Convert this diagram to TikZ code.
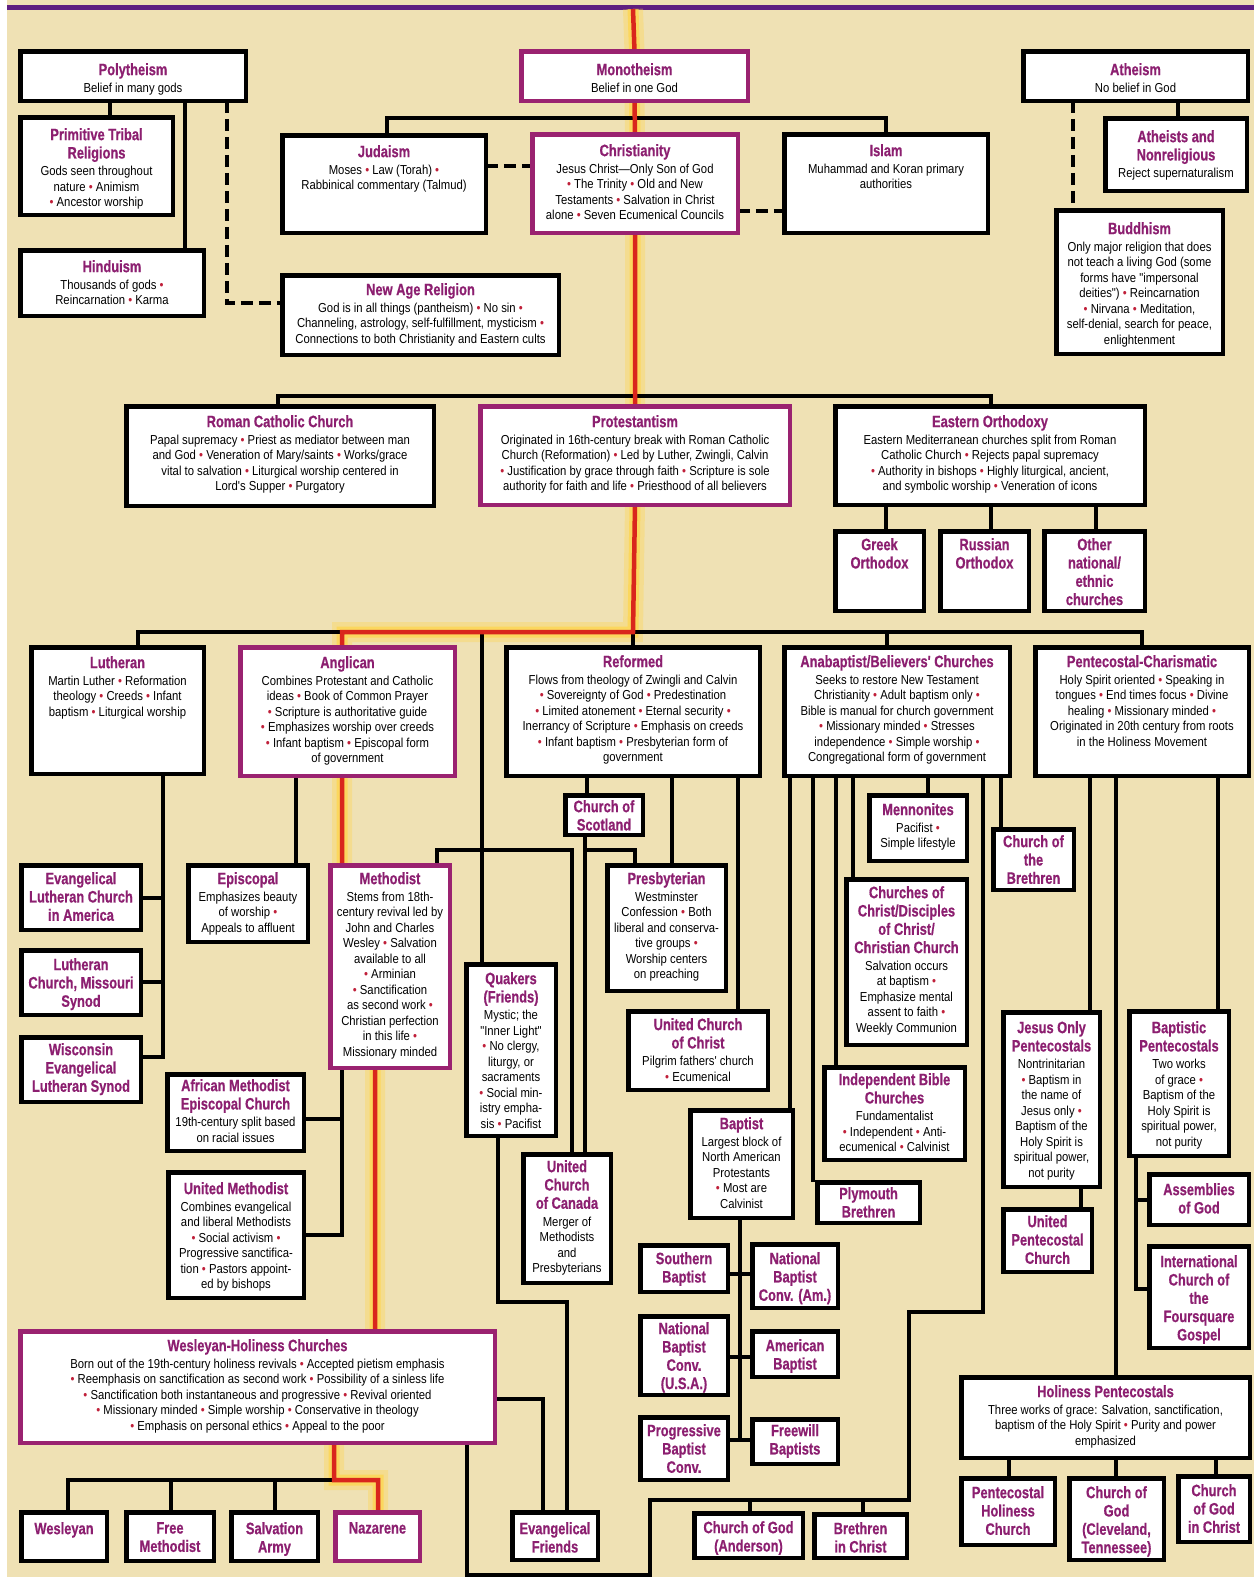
\documentclass[tikz,border=0pt]{standalone}
\usepackage{fontspec}
\setmainfont{Liberation Sans}
\newfontfamily\bodyfam{Liberation Sans}[FakeStretch=0.87]
\newfontfamily\ttlfam{Liberation Sans}[FakeStretch=0.78,FakeBold=0.6]
\usetikzlibrary{calc}
\definecolor{parch}{HTML}{EFE1B4}
\definecolor{ttlc}{HTML}{8C1F70}
\definecolor{bulred}{HTML}{C0203A}
\definecolor{purpb}{HTML}{9A2270}
\definecolor{purpbar}{HTML}{5E1F80}
\definecolor{redc}{HTML}{D9261C}
\definecolor{glowc}{HTML}{FFD54A}
\pgfdeclarelayer{back}
\pgfdeclarelayer{bg}
\pgfsetlayers{back,bg,main}
\newcommand\bul{\textcolor{bulred}{•}}
\tikzset{
 boxb/.style={draw=black, line width=4.5, fill=white, inner sep=0, outer sep=0},
 boxp/.style={draw=purpb, line width=4.5, fill=white, inner sep=0, outer sep=0},
 ttl/.style={font=\ttlfam\bfseries\fontsize{16.5}{18.3}\selectfont, text=ttlc, align=center, inner sep=0, text depth=0},
 bod/.style={font=\bodyfam\fontsize{13}{15.5}\selectfont, align=center, inner sep=0},
 con/.style={line width=4.8, black, line join=miter},
 dsh/.style={line width=4.8, black, dash pattern=on 12 off 6},
 redl/.style={line width=4.5, redc},
 glowa/.style={line width=20, glowc, opacity=0.35},
 glowb/.style={line width=11, glowc, opacity=0.7},
}
% #1 offset, #2 style, #3 name, #4 x1, #5 y1, #6 x2, #7 y2, #8 title, #9 body
\newcommand\bx[9][11]{%
 \node[#2, minimum width={#6-#4-4.5}, minimum height={#7-#5-4.5}] (#3) at ({(#4+#6)/2},{(#5+#7)/2}) {};
 \node[ttl, anchor=north] (#3-t) at ({(#4+#6)/2},{#5+#1}) {#8};
 \node[bod, anchor=north] (#3-b) at ([yshift=-7.5]#3-t.south) {#9};
}
\begin{document}
\begin{tikzpicture}[x=1pt,y=-1pt]
\useasboundingbox (0,0) rectangle (1254,1577);
\begin{pgfonlayer}{back}
\fill[white] (0,0) rectangle (1254,1577);
\fill[parch] (7,0) rectangle (1254,1577);
\fill[purpbar] (7,5) rectangle (1254,9.5);
\end{pgfonlayer}

% ---------- boxes ----------
\bx[14]{boxb}{poly}{18}{49}{248}{103}{Polytheism}{Belief in many gods}
\bx[14]{boxp}{mono}{519}{49}{750}{103}{Monotheism}{Belief in one God}
\bx[14]{boxb}{athe}{1021}{49}{1250}{103}{Atheism}{No belief in God}
\bx[13]{boxb}{prim}{18}{115}{175}{217}{Primitive Tribal\\Religions}{Gods seen throughout\\nature \bul{} Animism\\\bul{} Ancestor worship}
\bx[12]{boxb}{hindu}{18}{248}{206}{318}{Hinduism}{Thousands of gods \bul\\Reincarnation \bul{} Karma}
\bx[12]{boxb}{juda}{280}{133}{488}{235}{Judaism}{Moses \bul{} Law (Torah) \bul\\Rabbinical commentary (Talmud)}
\bx[12]{boxp}{chri}{530}{132}{740}{235}{Christianity}{Jesus Christ—Only Son of God\\\bul{} The Trinity \bul{} Old and New\\Testaments \bul{} Salvation in Christ\\alone \bul{} Seven Ecumenical Councils}
\bx[12]{boxb}{islam}{782}{132}{990}{235}{Islam}{Muhammad and Koran primary\\authorities}
\bx[14]{boxb}{athr}{1103}{116}{1249}{193}{Atheists and\\Nonreligious}{Reject supernaturalism}
\bx[14]{boxb}{budd}{1054}{208}{1225}{356}{Buddhism}{Only major religion that does\\not teach a living God (some\\forms have "impersonal\\deities") \bul{} Reincarnation\\\bul{} Nirvana \bul{} Meditation,\\self-denial, search for peace,\\enlightenment}
\bx[10]{boxb}{newage}{280}{273}{561}{357}{New Age Religion}{God is in all things (pantheism) \bul{} No sin \bul\\Channeling, astrology, self-fulfillment, mysticism \bul\\Connections to both Christianity and Eastern cults}
\bx[11]{boxb}{rcc}{124}{404}{436}{508}{Roman Catholic Church}{Papal supremacy \bul{} Priest as mediator between man\\and God \bul{} Veneration of Mary/saints \bul{} Works/grace\\vital to salvation \bul{} Liturgical worship centered in\\Lord's Supper \bul{} Purgatory}
\bx[11]{boxp}{prot}{478}{404}{792}{507}{Protestantism}{Originated in 16th-century break with Roman Catholic\\Church (Reformation) \bul{} Led by Luther, Zwingli, Calvin\\\bul{} Justification by grace through faith \bul{} Scripture is sole\\authority for faith and life \bul{} Priesthood of all believers}
\bx[11]{boxb}{eo}{833}{404}{1147}{507}{Eastern Orthodoxy}{Eastern Mediterranean churches split from Roman\\Catholic Church \bul{} Rejects papal supremacy\\\bul{} Authority in bishops \bul{} Highly liturgical, ancient,\\and symbolic worship \bul{} Veneration of icons}
\bx[9]{boxb}{greek}{833}{529}{926}{613}{Greek\\Orthodox}{}
\bx[9]{boxb}{russ}{938}{529}{1031}{613}{Russian\\Orthodox}{}
\bx[9]{boxb}{othr}{1042}{529}{1147}{613}{Other\\national/\\ethnic\\churches}{}
\bx[11]{boxb}{luth}{29}{645}{206}{776}{Lutheran}{Martin Luther \bul{} Reformation\\theology \bul{} Creeds \bul{} Infant\\baptism \bul{} Liturgical worship}
\bx[11]{boxp}{angl}{238}{645}{457}{778}{Anglican}{Combines Protestant and Catholic\\ideas \bul{} Book of Common Prayer\\\bul{} Scripture is authoritative guide\\\bul{} Emphasizes worship over creeds\\\bul{} Infant baptism \bul{} Episcopal form\\of government}
\bx[10]{boxb}{refd}{504}{645}{762}{778}{Reformed}{Flows from theology of Zwingli and Calvin\\\bul{} Sovereignty of God \bul{} Predestination\\\bul{} Limited atonement \bul{} Eternal security \bul\\Inerrancy of Scripture \bul{} Emphasis on creeds\\\bul{} Infant baptism \bul{} Presbyterian form of\\government}
\bx[10]{boxb}{anab}{782}{645}{1012}{778}{Anabaptist/Believers' Churches}{Seeks to restore New Testament\\Christianity \bul{} Adult baptism only \bul\\Bible is manual for church government\\\bul{} Missionary minded \bul{} Stresses\\independence \bul{} Simple worship \bul\\Congregational form of government}
\bx[10]{boxb}{pent}{1033}{645}{1251}{778}{Pentecostal-Charismatic}{Holy Spirit oriented \bul{} Speaking in\\tongues \bul{} End times focus \bul{} Divine\\healing \bul{} Missionary minded \bul\\Originated in 20th century from roots\\in the Holiness Movement}
\bx[9]{boxb}{elca}{19}{863}{143}{932}{Evangelical\\Lutheran Church\\in America}{}
\bx[10]{boxb}{lcms}{19}{948}{143}{1017}{Lutheran\\Church, Missouri\\Synod}{}
\bx[8]{boxb}{wels}{19}{1035}{143}{1104}{Wisconsin\\Evangelical\\Lutheran Synod}{}
\bx[9]{boxb}{epis}{186}{863}{310}{944}{Episcopal}{Emphasizes beauty\\of worship \bul\\Appeals to affluent}
\bx[9]{boxp}{meth}{328}{863}{452}{1070}{Methodist}{Stems from 18th-\\century revival led by\\John and Charles\\Wesley \bul{} Salvation\\available to all\\\bul{} Arminian\\\bul{} Sanctification\\as second work \bul\\Christian perfection\\in this life \bul\\Missionary minded}
\bx[7]{boxb}{scot}{563}{793}{645}{837}{Church of\\Scotland}{}
\bx[9]{boxb}{presb}{605}{863}{728}{993}{Presbyterian}{Westminster\\Confession \bul{} Both\\liberal and conserva-\\tive groups \bul\\Worship centers\\on preaching}
\bx[10]{boxb}{quak}{464}{962}{558}{1138}{Quakers\\(Friends)}{Mystic; the\\"Inner Light"\\\bul{} No clergy,\\liturgy, or\\sacraments\\\bul{} Social min-\\istry empha-\\sis \bul{} Pacifist}
\bx[9]{boxb}{ucc}{626}{1009}{770}{1092}{United Church\\of Christ}{Pilgrim fathers' church\\\bul{} Ecumenical}
\bx[10]{boxb}{menn}{867}{793}{969}{863}{Mennonites}{Pacifist \bul\\Simple lifestyle}
\bx[8]{boxb}{cbre}{991}{827}{1076}{892}{Church of\\the\\Brethren}{}
\bx[9]{boxb}{coc}{844}{877}{969}{1047}{Churches of\\Christ/Disciples\\of Christ/\\Christian Church}{Salvation occurs\\at baptism \bul\\Emphasize mental\\assent to faith \bul\\Weekly Communion}
\bx[8]{boxb}{ibc}{822}{1065}{967}{1162}{Independent Bible\\Churches}{Fundamentalist\\\bul{} Independent \bul{} Anti-\\ecumenical \bul{} Calvinist}
\bx[11]{boxb}{jop}{1001}{1010}{1102}{1189}{Jesus Only\\Pentecostals}{Nontrinitarian\\\bul{} Baptism in\\the name of\\Jesus only \bul\\Baptism of the\\Holy Spirit is\\spiritual power,\\not purity}
\bx[12]{boxb}{bpen}{1127}{1009}{1231}{1158}{Baptistic\\Pentecostals}{Two works\\of grace \bul\\Baptism of the\\Holy Spirit is\\spiritual power,\\not purity}
\bx[7]{boxb}{ame}{165}{1072}{306}{1153}{African Methodist\\Episcopal Church}{19th-century split based\\on racial issues}
\bx[12]{boxb}{umeth}{166}{1170}{306}{1300}{United Methodist}{Combines evangelical\\and liberal Methodists\\\bul{} Social activism \bul\\Progressive sanctifica-\\tion \bul{} Pastors appoint-\\ed by bishops}
\bx[8]{boxb}{uccan}{521}{1152}{613}{1285}{United\\Church\\of Canada}{Merger of\\Methodists\\and\\Presbyterians}
\bx[9]{boxb}{bapt}{688}{1108}{795}{1220}{Baptist}{Largest block of\\North American\\Protestants\\\bul{} Most are\\Calvinist}
\bx[7]{boxb}{plym}{815}{1180}{922}{1225}{Plymouth\\Brethren}{}
\bx[8]{boxb}{upc}{1001}{1207}{1094}{1274}{United\\Pentecostal\\Church}{}
\bx[11]{boxb}{aog}{1147}{1172}{1251}{1227}{Assemblies\\of God}{}
\bx[11]{boxb}{icfg}{1147}{1244}{1251}{1350}{International\\Church of\\the\\Foursquare\\Gospel}{}
\bx[9]{boxb}{sbap}{638}{1243}{730}{1294}{Southern\\Baptist}{}
\bx[10]{boxb}{nbca}{750}{1242}{840}{1310}{National\\Baptist\\Conv. (Am.)}{}
\bx[8]{boxb}{nbcu}{638}{1314}{730}{1397}{National\\Baptist\\Conv.\\(U.S.A.)}{}
\bx[10]{boxb}{abap}{750}{1329}{840}{1379}{American\\Baptist}{}
\bx[9]{boxb}{pbap}{638}{1415}{730}{1482}{Progressive\\Baptist\\Conv.}{}
\bx[7]{boxb}{fbap}{750}{1417}{840}{1466}{Freewill\\Baptists}{}
\bx[10]{boxp}{wesh}{18}{1329}{497}{1445}{Wesleyan-Holiness Churches}{Born out of the 19th-century holiness revivals \bul{} Accepted pietism emphasis\\\bul{} Reemphasis on sanctification as second work \bul{} Possibility of a sinless life\\\bul{} Sanctification both instantaneous and progressive \bul{} Revival oriented\\\bul{} Missionary minded \bul{} Simple worship \bul{} Conservative in theology\\\bul{} Emphasis on personal ethics \bul{} Appeal to the poor}
\bx[10]{boxb}{holp}{959}{1375}{1252}{1460}{Holiness Pentecostals}{Three works of grace: Salvation, sanctification,\\baptism of the Holy Spirit \bul{} Purity and power\\emphasized}
\bx[12]{boxb}{wesl}{19}{1510}{109}{1563}{Wesleyan}{}
\bx[12]{boxb}{fmeth}{124}{1510}{216}{1563}{Free\\Methodist}{}
\bx[12]{boxb}{salv}{229}{1510}{320}{1563}{Salvation\\Army}{}
\bx[12]{boxp}{naz}{333}{1510}{422}{1563}{Nazarene}{}
\bx[12]{boxb}{efr}{510}{1510}{600}{1562}{Evangelical\\Friends}{}
\bx[10]{boxb}{cogA}{692}{1511}{805}{1560}{Church of God\\(Anderson)}{}
\bx[10]{boxb}{bic}{812}{1512}{909}{1560}{Brethren\\in Christ}{}
\bx[10]{boxb}{phc}{959}{1476}{1057}{1547}{Pentecostal\\Holiness\\Church}{}
\bx[10]{boxb}{cogC}{1067}{1476}{1166}{1562}{Church of\\God\\(Cleveland,\\Tennessee)}{}
\bx[10]{boxb}{cogic}{1176}{1474}{1252}{1544}{Church\\of God\\in Christ}{}

% ---------- connectors ----------
\begin{pgfonlayer}{bg}
% glow under the red line
\foreach \g in {glowa,glowb}{
\draw[\g] (633,9) -- (mono.north) (mono.south) -- (chri.north) (chri.south) -- (prot.north) (prot.south) -- (633,632) -- (342,632) -- (angl.north -| 342,0) (angl.south -| 342,0) -- (meth.north -| 342,0) (meth.south -| 375,0) -- (wesh.north -| 375,0) (wesh.south -| 334,0) -- (334,1480) -- (378,1480) -- (naz.north -| 378,0);
}
% top
\draw[con] (poly.south -| 110,0) -- (prim.north -| 110,0);
\draw[con] (poly.south -| 185,0) -- (hindu.north -| 185,0);
\draw[dsh] (poly.south -| 227,0) |- (newage.west |- 0,303);
\draw[con] (juda.north -| 387,0) -- (387,118) -- (886,118) -- (islam.north -| 886,0);
\draw[dsh] (juda.east |- 0,166) -- (chri.west |- 0,166);
\draw[dsh] (chri.east |- 0,211) -- (islam.west |- 0,211);
\draw[con] (athe.south -| 1178,0) -- (athr.north -| 1178,0);
\draw[dsh] (athe.south -| 1073,0) -- (budd.north -| 1073,0);
% second row
\draw[con] (rcc.north -| 278,0) -- (278,396) -- (991,396) -- (eo.north -| 991,0);
\draw[con] (eo.south -| 886,0) -- (greek.north -| 886,0);
\draw[con] (eo.south -| 991,0) -- (russ.north -| 991,0);
\draw[con] (eo.south -| 1096,0) -- (othr.north -| 1096,0);
% third row
\draw[con] (luth.north -| 138,0) -- (138,632) -- (1142,632) -- (pent.north -| 1142,0);
\draw[con] (633,632) -- (refd.north);
\draw[con] (887,632) -- (anab.north -| 887,0);
% Lutheran
\draw[con] (luth.south -| 163,0) -- (163,1057) -- (wels.east |- 0,1057);
\draw[con] (elca.east |- 0,898) -- (163,898);
\draw[con] (lcms.east |- 0,982) -- (163,982);
% Anglican / Methodist
\draw[con] (angl.south -| 296,0) -- (epis.north -| 296,0);
\draw[con] (meth.south -| 342,0) -- (342,1235) -- (umeth.east |- 0,1235);
\draw[con] (ame.east |- 0,1119) -- (342,1119);
% Quakers line
\draw[con] (482,632) -- (quak.north -| 482,0);
\draw[con] (meth.north -| 437,0) -- (437,850) -- (572,850) -- (uccan.north -| 572,0);
\draw[con] (quak.south -| 498,0) -- (498,1302) -- (567,1302) -- (efr.north -| 567,0);
% Reformed
\draw[con] (refd.south -| 587,0) -- (scot.north -| 587,0);
\draw[con] (scot.south -| 585,0) -- (585,850) -- (635,850) -- (presb.north -| 635,0);
\draw[con] (585,850) -- (uccan.north -| 585,0);
\draw[con] (refd.south -| 672,0) -- (presb.north -| 672,0);
\draw[con] (refd.south -| 738,0) -- (ucc.north -| 738,0);
% Anabaptist
\draw[con] (anab.south -| 790,0) -- (bapt.north -| 790,0);
\draw[con] (anab.south -| 813,0) -- (plym.north -| 813,0);
\draw[con] (anab.south -| 836,0) -- (ibc.north -| 836,0);
\draw[con] (anab.south -| 853,0) -- (coc.north -| 853,0);
\draw[con] (anab.south -| 928,0) -- (menn.north -| 928,0);
\draw[con] (anab.south -| 1001,0) -- (cbre.north -| 1001,0);
\draw[con] (anab.south -| 983,0) -- (983,1312) -- (909,1312) -- (909,1500) -- (650,1500) -- (650,1575) -- (467,1575) -- (wesh.south -| 467,0);
\draw[con] (cogA.north -| 750,0) -- (750,1500);
\draw[con] (bic.north -| 863,0) -- (863,1500);
% Baptist
\draw[con] (bapt.south -| 740,0) -- (740,1440);
\draw[con] (sbap.east |- 0,1274) -- (nbca.west |- 0,1274);
\draw[con] (nbcu.east |- 0,1357) -- (abap.west |- 0,1357);
\draw[con] (pbap.east |- 0,1440) -- (fbap.west |- 0,1440);
% Wesleyan-Holiness
\draw[con] (wesh.east |- 0,1399) -- (543,1399) -- (efr.north -| 543,0);
\draw[con] (wesl.north -| 68,0) -- (68,1480) -- (334,1480);
\draw[con] (fmeth.north -| 171,0) -- (171,1480);
\draw[con] (salv.north -| 275,0) -- (275,1480);
% Pentecostal
\draw[con] (pent.south -| 1090,0) -- (jop.north -| 1090,0);
\draw[con] (pent.south -| 1116,0) -- (holp.north -| 1116,0);
\draw[con] (pent.south -| 1218,0) -- (bpen.north -| 1218,0);
\draw[con] (jop.south -| 1081,0) -- (upc.north -| 1081,0);
\draw[con] (bpen.south -| 1136,0) -- (1136,1289) -- (icfg.west |- 0,1289);
\draw[con] (aog.west |- 0,1200) -- (1136,1200);
\draw[con] (holp.south -| 1009,0) -- (phc.north -| 1009,0);
\draw[con] (holp.south -| 1116,0) -- (cogC.north -| 1116,0);
\draw[con] (holp.south -| 1216,0) -- (cogic.north -| 1216,0);
% red main line
\draw[redl] (633,9) -- (mono.north) (mono.south) -- (chri.north) (chri.south) -- (prot.north) (prot.south) -- (633,632) -- (342,632) -- (angl.north -| 342,0) (angl.south -| 342,0) -- (meth.north -| 342,0) (meth.south -| 375,0) -- (wesh.north -| 375,0) (wesh.south -| 334,0) -- (334,1480) -- (378,1480) -- (naz.north -| 378,0);
\end{pgfonlayer}
\end{tikzpicture}
\end{document}
